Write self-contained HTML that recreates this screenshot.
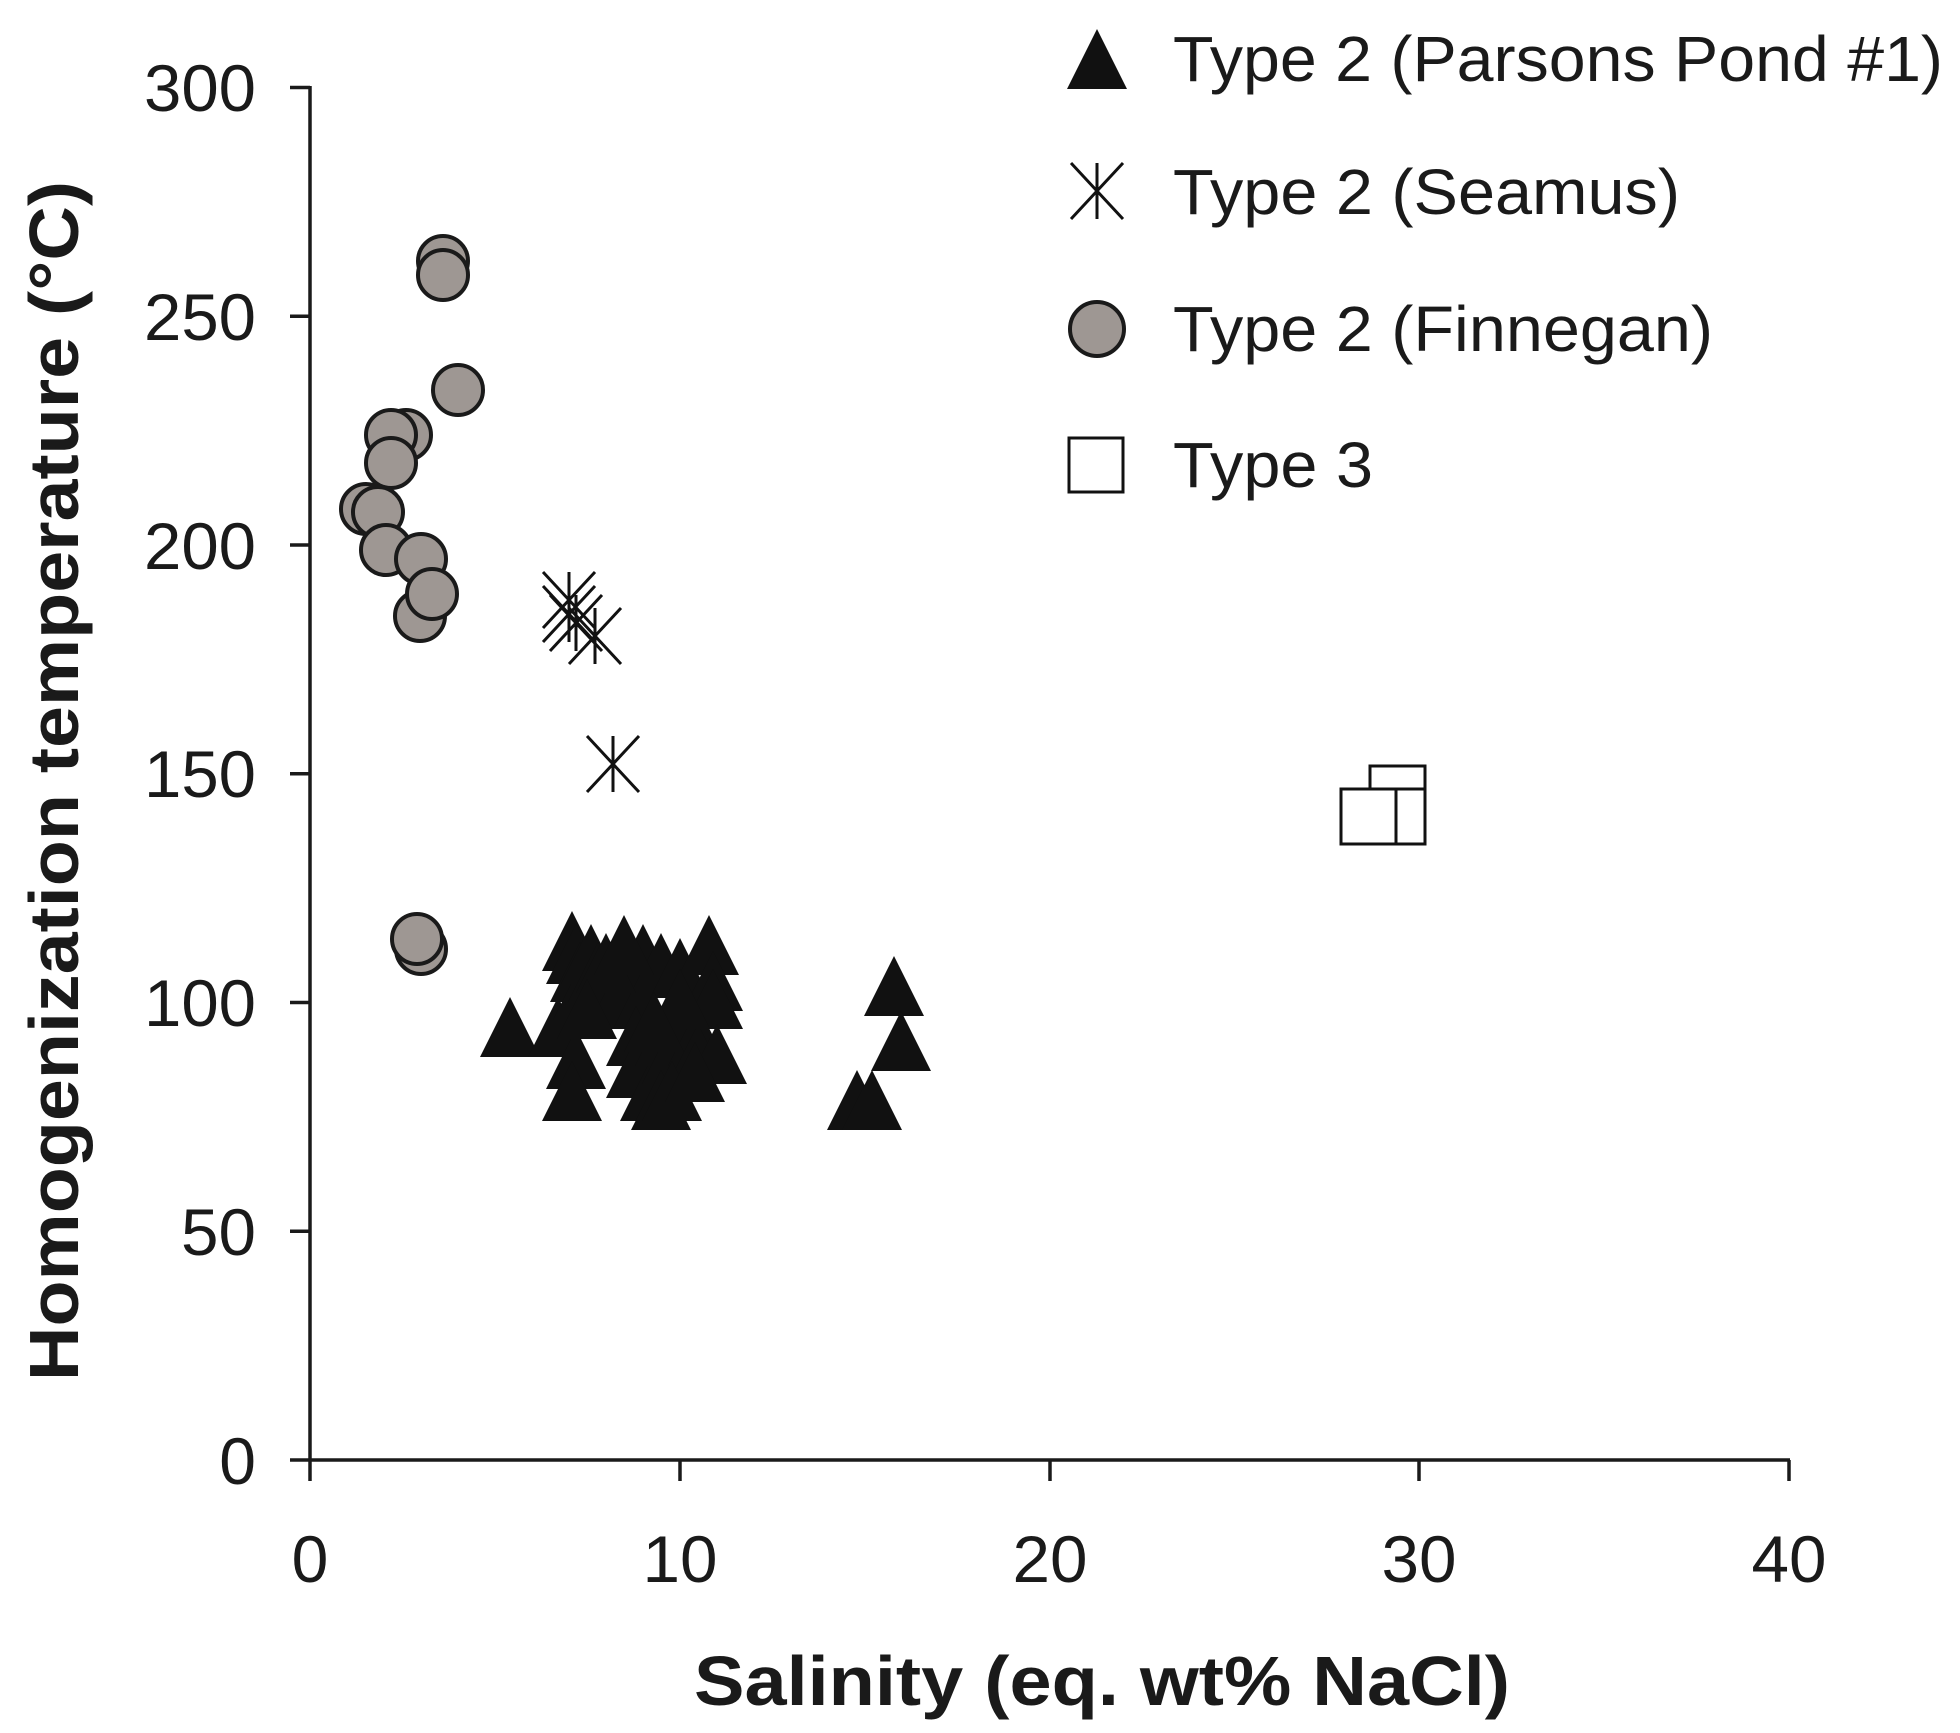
<!DOCTYPE html>
<html><head><meta charset="utf-8"><style>html,body{margin:0;padding:0;background:#fff}svg{display:block}</style></head>
<body>
<svg xmlns="http://www.w3.org/2000/svg" width="1960" height="1733" viewBox="0 0 1960 1733" font-family="Liberation Sans, Arial, sans-serif">
<defs>
<path id="tri" d="M0,-33 L30,27 L-30,27 Z" fill="#111"/>
<g id="ast" stroke="#111" stroke-width="3" fill="none"><line x1="-26" y1="-28" x2="26" y2="28"/><line x1="-26" y1="28" x2="26" y2="-28"/><line x1="0" y1="-28" x2="0" y2="28"/></g>
</defs>
<g stroke="#1a1a1a" stroke-width="3.5" fill="none">
<line x1="310" y1="86" x2="310" y2="1460"/>
<line x1="310" y1="1460" x2="1790" y2="1460"/>
<line x1="290" y1="87.5" x2="310" y2="87.5"/>
<line x1="290" y1="316.2" x2="310" y2="316.2"/>
<line x1="290" y1="545" x2="310" y2="545"/>
<line x1="290" y1="773.7" x2="310" y2="773.7"/>
<line x1="290" y1="1002.5" x2="310" y2="1002.5"/>
<line x1="290" y1="1231.2" x2="310" y2="1231.2"/>
<line x1="290" y1="1460" x2="310" y2="1460"/>
<line x1="310" y1="1460" x2="310" y2="1481"/>
<line x1="680" y1="1460" x2="680" y2="1481"/>
<line x1="1050" y1="1460" x2="1050" y2="1481"/>
<line x1="1419" y1="1460" x2="1419" y2="1481"/>
<line x1="1789" y1="1460" x2="1789" y2="1481"/>
</g>
<g font-size="66" fill="#1a1a1a" text-anchor="end">
<text x="256" y="111" textLength="112" lengthAdjust="spacingAndGlyphs">300</text>
<text x="256" y="340" textLength="112" lengthAdjust="spacingAndGlyphs">250</text>
<text x="256" y="569" textLength="112" lengthAdjust="spacingAndGlyphs">200</text>
<text x="256" y="797" textLength="112" lengthAdjust="spacingAndGlyphs">150</text>
<text x="256" y="1026" textLength="112" lengthAdjust="spacingAndGlyphs">100</text>
<text x="256" y="1255" textLength="75" lengthAdjust="spacingAndGlyphs">50</text>
<text x="256" y="1484">0</text>
</g>
<g font-size="66" fill="#1a1a1a" text-anchor="middle">
<text x="310" y="1582">0</text>
<text x="680" y="1582" textLength="75" lengthAdjust="spacingAndGlyphs">10</text>
<text x="1050" y="1582" textLength="75" lengthAdjust="spacingAndGlyphs">20</text>
<text x="1419" y="1582" textLength="75" lengthAdjust="spacingAndGlyphs">30</text>
<text x="1789" y="1582" textLength="75" lengthAdjust="spacingAndGlyphs">40</text>
</g>
<text x="1102" y="1705" font-size="70" font-weight="bold" text-anchor="middle" fill="#1a1a1a" textLength="816" lengthAdjust="spacingAndGlyphs">Salinity (eq. wt% NaCl)</text>
<text transform="translate(78,781) rotate(-90)" font-size="70" font-weight="bold" text-anchor="middle" fill="#1a1a1a" textLength="1200" lengthAdjust="spacingAndGlyphs">Homogenization temperature (°C)</text>

<g fill="#fff" stroke="#111" stroke-width="3">
<rect x="1370" y="766" width="55" height="55"/>
<rect x="1370" y="789" width="55" height="55"/>
<rect x="1341" y="789" width="55" height="55"/>
</g>

<g fill="#9e9793" stroke="#1a1a1a" stroke-width="4">
<circle cx="443" cy="261" r="25"/><circle cx="443" cy="275" r="25"/>
<circle cx="458" cy="390" r="25"/><circle cx="406" cy="435" r="25"/>
<circle cx="391" cy="435" r="25"/><circle cx="391" cy="463" r="25"/>
<circle cx="366" cy="509" r="25"/><circle cx="378" cy="512" r="25"/>
<circle cx="386" cy="550" r="25"/><circle cx="421" cy="559" r="25"/>
<circle cx="420" cy="616" r="25"/><circle cx="432" cy="594" r="25"/>
<circle cx="421" cy="949" r="25"/><circle cx="417" cy="939" r="25"/>
</g>

<use href="#ast" x="569" y="600"/><use href="#ast" x="569" y="614"/>
<use href="#ast" x="576" y="623"/><use href="#ast" x="595" y="636"/>
<use href="#ast" x="613" y="764"/>

<g>
<use href="#tri" x="510" y="1030"/><use href="#tri" x="558" y="1030"/>
<use href="#tri" x="572" y="944"/><use href="#tri" x="576" y="957"/>
<use href="#tri" x="580" y="975"/><use href="#tri" x="583" y="993"/>
<use href="#tri" x="591" y="957"/><use href="#tri" x="598" y="975"/>
<use href="#tri" x="576" y="1062"/><use href="#tri" x="572" y="1094"/>
<use href="#tri" x="617" y="1002"/><use href="#tri" x="628" y="980"/>
<use href="#tri" x="643" y="957"/><use href="#tri" x="643" y="1002"/>
<use href="#tri" x="636" y="1039"/><use href="#tri" x="636" y="1071"/>
<use href="#tri" x="650" y="1094"/><use href="#tri" x="661" y="966"/>
<use href="#tri" x="665" y="1039"/><use href="#tri" x="672" y="1057"/>
<use href="#tri" x="680" y="971"/><use href="#tri" x="687" y="1021"/>
<use href="#tri" x="698" y="1039"/><use href="#tri" x="698" y="1057"/>
<use href="#tri" x="661" y="1103"/><use href="#tri" x="672" y="1094"/>
<use href="#tri" x="709" y="948"/><use href="#tri" x="713" y="984"/>
<use href="#tri" x="713" y="1002"/><use href="#tri" x="717" y="1057"/>
<use href="#tri" x="680" y="1002"/><use href="#tri" x="654" y="1025"/>
<use href="#tri" x="606" y="966"/><use href="#tri" x="624" y="948"/>
<use href="#tri" x="587" y="1012"/><use href="#tri" x="695" y="1075"/>
<use href="#tri" x="857" y="1103"/><use href="#tri" x="872" y="1103"/>
<use href="#tri" x="894" y="989"/><use href="#tri" x="901" y="1044"/>
</g>

<use href="#tri" x="1097" y="62"/>
<use href="#ast" x="1097" y="191"/>
<circle cx="1097" cy="329" r="27" fill="#9e9793" stroke="#1a1a1a" stroke-width="4"/>
<rect x="1069" y="438" width="54" height="54" fill="#fff" stroke="#111" stroke-width="3"/>
<g font-size="64" fill="#1a1a1a">
<text x="1173" y="81" textLength="770" lengthAdjust="spacingAndGlyphs">Type 2 (Parsons Pond #1)</text>
<text x="1173" y="214" textLength="507" lengthAdjust="spacingAndGlyphs">Type 2 (Seamus)</text>
<text x="1173" y="351" textLength="540" lengthAdjust="spacingAndGlyphs">Type 2 (Finnegan)</text>
<text x="1173" y="487" textLength="200" lengthAdjust="spacingAndGlyphs">Type 3</text>
</g>
</svg>
</body></html>
